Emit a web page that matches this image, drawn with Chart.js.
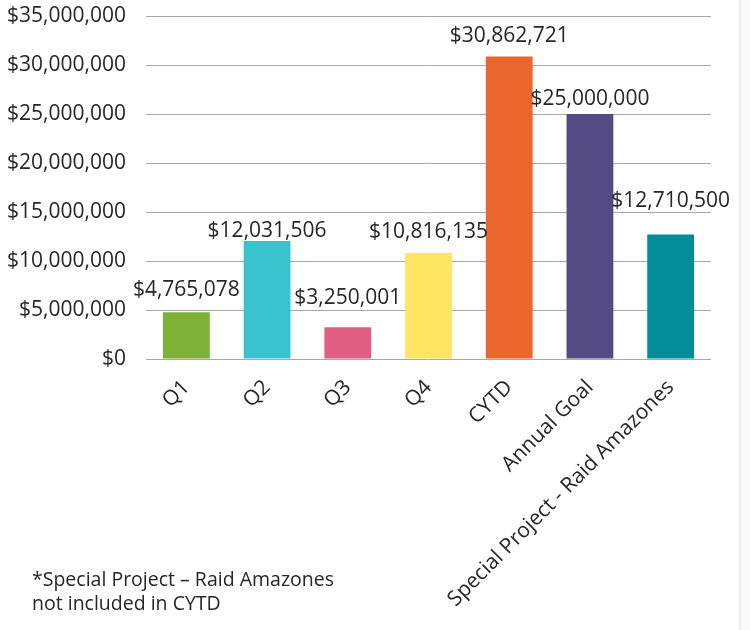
<!DOCTYPE html>
<html>
<head>
<meta charset="utf-8">
<script src="https://cdn.jsdelivr.net/npm/chart.js@4.4.1/dist/chart.umd.min.js"></script>
<style>
  html, body { margin: 0; padding: 0; background: #fff; }
  #wrap { position: relative; width: 750px; height: 630px; }
  #edge { position: absolute; left: 739px; top: 0; width: 11px; height: 630px;
          background: #fafafa; border-left: 2px solid #ebebeb; box-sizing: border-box; }
  #note { position: absolute; left: 32px; top: 567px; font: 19.5px "Open Sans", sans-serif;
          color: #262626; line-height: 24px; }
</style>
</head>
<body>
<div id="wrap">
  <canvas id="chart" width="750" height="630"></canvas>
  <div id="edge"></div>
  <div id="note">*Special Project – Raid Amazones<br>not included in CYTD</div>
</div>
<script>
const categories = ['Q1', 'Q2', 'Q3', 'Q4', 'CYTD', 'Annual Goal', 'Special Project - Raid Amazones'];
const amounts = [4765078, 12031506, 3250001, 10816135, 30862721, 25000000, 12710500];
const barColors = ['#7db236', '#38c3cf', '#e15f84', '#fee562', '#e9672c', '#544a84', '#008d98'];
const yTicks = [0, 5000000, 10000000, 15000000, 20000000, 25000000, 30000000, 35000000];

const money = v => '$' + v.toLocaleString('en-US');

// value labels sit above each bar; lift is gap from bar top to baseline
const valueLabels = {
  id: 'valueLabels',
  afterDatasetsDraw(chart, args, opts) {
    const ctx = chart.ctx;
    const meta = chart.getDatasetMeta(0);
    ctx.save();
    ctx.font = opts.font;
    ctx.fillStyle = opts.color;
    ctx.textAlign = 'center';
    ctx.textBaseline = 'alphabetic';
    meta.data.forEach((bar, i) => {
      ctx.fillText(money(amounts[i]), bar.x, bar.y - opts.lift[i]);
    });
    ctx.restore();
  }
};

new Chart(document.getElementById('chart'), {
  type: 'bar',
  data: {
    labels: categories,
    datasets: [{
      data: amounts,
      backgroundColor: barColors,
      barPercentage: 0.58,
      categoryPercentage: 1
    }]
  },
  options: {
    responsive: false,
    animation: false,
    layout: { padding: { top: 16, right: 39, left: 0, bottom: 0 } },
    plugins: {
      legend: { display: false },
      tooltip: { enabled: false },
      valueLabels: {
        font: '21px "Open Sans", sans-serif',
        color: '#262626',
        lift: [16, 4, 23, 15, 15, 9, 27]
      }
    },
    scales: {
      x: {
        grid: { display: false },
        border: { display: false },
        ticks: {
          color: '#262626',
          font: { family: 'Open Sans', size: 21 },
          minRotation: 45,
          maxRotation: 45,
          autoSkip: false,
          padding: 8
        },
        afterFit: scale => {
          scale.height = 271;
          scale.paddingLeft = 0;
          scale.paddingRight = 0;
        }
      },
      y: {
        min: 0,
        max: 35000000,
        afterBuildTicks: scale => { scale.ticks = yTicks.map(v => ({ value: v })); },
        grid: { color: '#a8a8a8', lineWidth: 1, drawTicks: false },
        border: { display: false },
        ticks: {
          color: '#262626',
          font: { family: 'Open Sans', size: 21 },
          padding: 20,
          callback: v => money(v)
        },
        afterFit: scale => {
          scale.width = 146;
          scale.paddingTop = 0;
          scale.paddingBottom = 0;
        }
      }
    }
  },
  plugins: [valueLabels]
});
</script>
</body>
</html>
